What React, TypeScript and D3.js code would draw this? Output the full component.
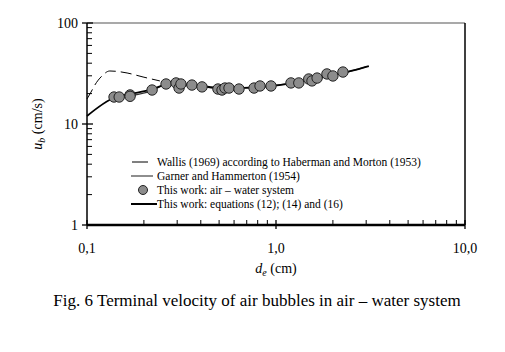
import React from 'react';
import * as d3 from 'd3';

// measured points: air - water system
const bubbleD = [0.139, 0.148, 0.169, 0.169, 0.221, 0.262, 0.296, 0.307, 0.314, 0.359, 0.406, 0.493, 0.518, 0.537, 0.564, 0.637, 0.765, 0.823, 0.941, 1.2, 1.32, 1.49, 1.55, 1.65, 1.86, 2.0, 2.26];
const bubbleU = [18.5, 18.5, 19.4, 18.8, 21.7, 24.9, 25.5, 22.7, 24.9, 24.3, 23.3, 22.2, 21.7, 22.7, 22.7, 22.2, 22.7, 23.8, 23.8, 25.5, 25.5, 27.9, 26.7, 28.5, 31.3, 29.9, 32.7];

// Wallis (1969) curve, dashed
const wallisD = [0.1, 0.105, 0.11, 0.12, 0.132, 0.163, 0.198, 0.243];
const wallisU = [17.7, 20.7, 24.3, 29.9, 33.5, 32.0, 29.2, 26.7];

// Garner and Hammerton (1954)
const garnerD = [0.14, 0.17, 0.22, 0.26, 0.35, 0.5, 0.8, 1.2, 1.6, 2.2, 3.0];
const garnerU = [18.0, 19.0, 21.3, 24.3, 24.0, 22.6, 23.3, 25.3, 27.8, 31.5, 36.8];

// This work: equations (12); (14) and (16)
const eqD = [0.1, 0.14, 0.17, 0.22, 0.26, 0.3, 0.4, 0.5, 0.7, 0.9, 1.2, 1.6, 2.0, 2.5, 3.1];
const eqU = [12.0, 18.3, 19.8, 22.0, 24.5, 25.0, 23.8, 22.8, 22.8, 23.6, 25.3, 28.0, 30.5, 33.5, 37.5];

const xTicks = [0.1, 1, 10];
const xTickLabels = ['0,1', '1,0', '10,0'];
const yTicks = [1, 10, 100];
const yTickLabels = ['1', '10', '100'];

const legendLabels = [
  'Wallis (1969) according to Haberman and Morton (1953)',
  'Garner and Hammerton (1954)',
  'This work: air \u2013 water system',
  'This work: equations (12); (14) and (16)',
];

const App = () => {
  const x = d3.scaleLog().domain([0.1, 10]).range([87, 465]);
  const y = d3.scaleLog().domain([1, 100]).range([225, 23]);

  const curve = d3
    .line<[number, number]>()
    .curve(d3.curveMonotoneX)
    .x((d) => x(d[0]))
    .y((d) => y(d[1]));

  const zip = (a: number[], b: number[]) => a.map((v, i) => [v, b[i]] as [number, number]);

  const minorX: number[] = [];
  const minorY: number[] = [];
  [0.1, 1].forEach((dec) => {
    for (let k = 2; k <= 9; k++) minorX.push(dec * k);
  });
  [1, 10].forEach((dec) => {
    for (let k = 2; k <= 9; k++) minorY.push(dec * k);
  });

  const font = '"Liberation Serif", "Times New Roman", serif';
  const legendY = [162, 176, 190, 204];

  return (
    <svg width={505} height={352} style={{ position: 'absolute', left: 0, top: 0, background: '#fff' }} fontFamily={font}>
      {/* frame */}
      <line x1={87} x2={465} y1={23} y2={23} stroke="#555" strokeWidth={1.2} />
      <line x1={465} x2={465} y1={23} y2={225} stroke="#000" strokeWidth={1.5} />

      {/* data lines */}
      <path d={curve(zip(garnerD, garnerU)) || ''} fill="none" stroke="#333" strokeWidth={1.2} />
      <path d={curve(zip(eqD, eqU)) || ''} fill="none" stroke="#000" strokeWidth={1.8} />
      <path d={curve(zip(wallisD, wallisU)) || ''} fill="none" stroke="#000" strokeWidth={1} strokeDasharray="11,5" />

      {bubbleD.map((d, i) => (
        <circle key={i} cx={x(d)} cy={y(bubbleU[i])} r={5.2} fill="#8c8c8c" stroke="#222" strokeWidth={1} />
      ))}

      {/* y axis */}
      <line x1={87} x2={87} y1={23} y2={225} stroke="#000" strokeWidth={1.5} />
      {yTicks.map((t, i) => (
        <g key={t}>
          <line x1={82} x2={93} y1={y(t)} y2={y(t)} stroke="#000" strokeWidth={1.3} />
          <text x={78} y={y(t)} dy="0.35em" textAnchor="end" fontSize={14}>
            {yTickLabels[i]}
          </text>
        </g>
      ))}
      {minorY.map((t) => (
        <line key={t} x1={87} x2={92} y1={y(t)} y2={y(t)} stroke="#000" strokeWidth={1} />
      ))}

      {/* x axis */}
      <line x1={87} x2={465} y1={225} y2={225} stroke="#000" strokeWidth={2.5} />
      {xTicks.map((t, i) => (
        <g key={t}>
          <line x1={x(t)} x2={x(t)} y1={220} y2={229} stroke="#000" strokeWidth={1.3} />
          <text x={x(t)} y={253} textAnchor="middle" fontSize={14}>
            {xTickLabels[i]}
          </text>
        </g>
      ))}
      {minorX.map((t) => (
        <line key={t} x1={x(t)} x2={x(t)} y1={220} y2={225} stroke="#000" strokeWidth={1} />
      ))}

      {/* axis titles */}
      <text x={276} y={273} textAnchor="middle" fontSize={14}>
        <tspan fontStyle="italic">d</tspan>
        <tspan fontStyle="italic" fontSize={10} dy={3}>e</tspan>
        <tspan dy={-3}> (cm)</tspan>
      </text>
      <text transform="translate(42,124) rotate(-90)" textAnchor="middle" fontSize={14}>
        <tspan fontStyle="italic">u</tspan>
        <tspan fontStyle="italic" fontSize={10} dy={3}>b</tspan>
        <tspan dy={-3}> (cm/s)</tspan>
      </text>

      {/* legend */}
      <line x1={132} x2={148} y1={legendY[0]} y2={legendY[0]} stroke="#000" strokeWidth={1} />
      <line x1={131} x2={153} y1={legendY[1]} y2={legendY[1]} stroke="#444" strokeWidth={1.2} />
      <circle cx={143} cy={legendY[2]} r={4.5} fill="#8c8c8c" stroke="#222" strokeWidth={1} />
      <line x1={131} x2={157} y1={legendY[3]} y2={legendY[3]} stroke="#000" strokeWidth={2} />
      {legendLabels.map((l, i) => (
        <text key={l} x={157} y={legendY[i]} dy="0.35em" fontSize={11.5}>
          {l}
        </text>
      ))}

      {/* caption */}
      <text x={257} y={306} textAnchor="middle" fontSize={17}>
        Fig. 6 Terminal velocity of air bubbles in air {'\u2013'} water system
      </text>
    </svg>
  );
};

export default App;
